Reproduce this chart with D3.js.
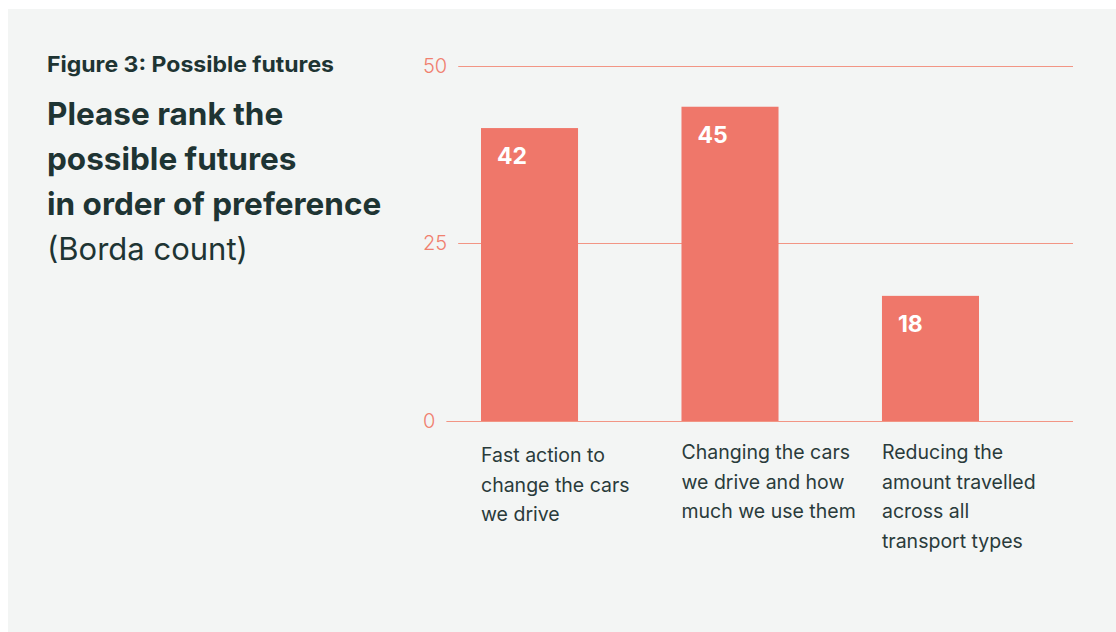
<!DOCTYPE html>
<html>
<head>
<meta charset="utf-8">
<script src="https://cdn.jsdelivr.net/npm/d3@7"></script>
<style>
  html, body { margin: 0; padding: 0; background: #ffffff; }
  svg { display: block; font-family: Inter, "Noto Sans", sans-serif; }
</style>
</head>
<body>
<script>
// chart data
var categories = ["fast", "changing", "reducing"];
var categoryLines = [
    ["Fast action to", "change the cars", "we drive"],
    ["Changing the cars", "we drive and how", "much we use them"],
    ["Reducing the", "amount travelled", "across all", "transport types"]
];
var values = [41.2, 44.2, 17.6];
var valueLabels = ["42", "45", "18"];
var yTicks = [0, 25, 50];

var width = 1116, height = 632;
var ink = "#1e3433";
var barColor = "#ef776a";

var svg = d3.select("body").append("svg")
    .attr("width", width)
    .attr("height", height);

// grey panel
svg.append("rect")
    .attr("x", 8).attr("y", 9)
    .attr("width", width - 8).attr("height", height - 9)
    .attr("fill", "#f3f5f4");

// titles
svg.append("text")
    .attr("x", 47).attr("y", 72)
    .attr("fill", ink)
    .attr("font-size", 21.5).attr("font-weight", 700)
    .attr("textLength", 287).attr("lengthAdjust", "spacingAndGlyphs")
    .text("Figure 3: Possible futures");

var titleLines = ["Please rank the", "possible futures", "in order of preference"];
svg.selectAll(".title").data(titleLines).enter().append("text")
    .attr("class", "title")
    .attr("x", 47)
    .attr("y", function(d, i) { return 125 + i * 45; })
    .attr("fill", ink)
    .attr("font-size", 31.5).attr("font-weight", 700)
    .text(function(d) { return d; });

svg.append("text")
    .attr("x", 47).attr("y", 260)
    .attr("fill", ink)
    .attr("font-size", 31).attr("font-weight", 400)
    .text("(Borda count)");

// scales
var y = d3.scaleLinear()
    .domain([0, 50])
    .range([421, 65.5]);

var x = d3.scaleBand()
    .domain(categories)
    .range([481, 979])
    .paddingInner(0.516)
    .paddingOuter(0);

// gridlines with labels
var grid = svg.append("g").attr("class", "grid");
yTicks.forEach(function(t) {
    var lbl = grid.append("text")
        .attr("x", 423)
        .attr("y", y(t))
        .attr("dy", "0.36em")
        .attr("fill", "#f0806f")
        .attr("font-size", 20).attr("font-weight", 300)
        .text(t);
    var w = lbl.node().getComputedTextLength();
    grid.append("line")
        .attr("x1", 423 + w + 11).attr("x2", 1073)
        .attr("y1", Math.round(y(t)) + 0.5).attr("y2", Math.round(y(t)) + 0.5)
        .attr("stroke", "#f29584")
        .attr("stroke-width", 1);
});

// bars
svg.selectAll(".bar").data(values).enter().append("rect")
    .attr("class", "bar")
    .attr("x", function(d, i) { return x(categories[i]); })
    .attr("y", function(d) { return y(d); })
    .attr("width", x.bandwidth())
    .attr("height", function(d) { return y(0) - y(d); })
    .attr("fill", barColor);

// value labels inside bars
svg.selectAll(".val").data(values).enter().append("text")
    .attr("class", "val")
    .attr("x", function(d, i) { return x(categories[i]) + 16; })
    .attr("y", function(d) { return y(d) + 36; })
    .attr("fill", "#ffffff")
    .attr("font-size", 23).attr("font-weight", 700)
    .text(function(d, i) { return valueLabels[i]; });

// category labels
var cat = svg.selectAll(".cat").data(categoryLines).enter().append("text")
    .attr("class", "cat")
    .attr("fill", "#2a3b3b")
    .attr("font-size", 19.5);
cat.selectAll("tspan").data(function(d, i) {
        return d.map(function(s) { return {s: s, i: i}; });
    }).enter().append("tspan")
    .attr("x", function(d) { return x(categories[d.i]); })
    .attr("y", function(d, j) { return (d.i === 0 ? 462 : 459) + j * 29.5; })
    .text(function(d) { return d.s; });
</script>
</body>
</html>
